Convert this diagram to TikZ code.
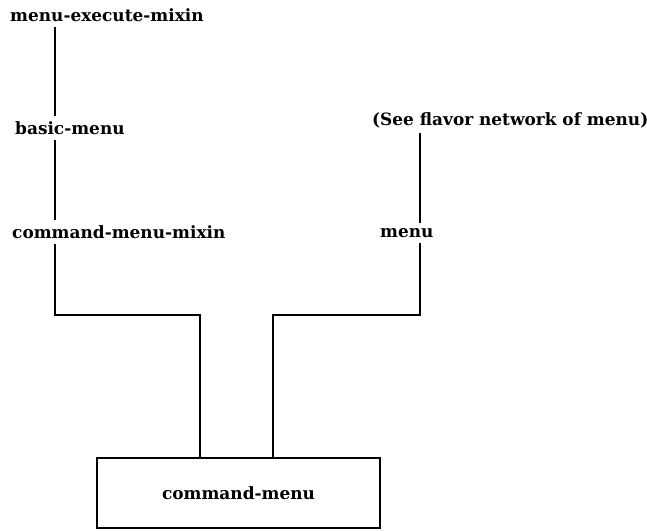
\documentclass[tikz,border=0pt]{standalone}
\usepackage{fontspec}
\setmainfont{DejaVu Serif}
\usepackage{tikz}
\tikzstyle{every node}=[inner xsep=0pt, inner ysep=5bp, font=\bfseries\fontsize{17}{19}\selectfont]
\tikzset{flav/.style={anchor=west},
  link/.style={line width=2.8bp}}

\begin{document}
\begin{tikzpicture}[x=1bp,y=-1bp]
    \useasboundingbox (0,0) rectangle (647,531);
    \coordinate (lx) at (55,0);
    \coordinate (rx) at (420,0);
    \node[flav] (mem) at (10,15) {menu-execute-mixin};
    \node[flav] (bm) at (15,128) {basic-menu};
    \node[flav] (cmm) at (12,232) {command-menu-mixin};
    \node[flav] (see) at (372,120) {(See flavor network of menu)};
    \node[flav] (mn) at (380,233) {menu};
    \node[draw, line width=2.4bp, minimum width=283bp, minimum height=70bp] (cm) at (238.5,493) {command-menu};
    \coordinate (lj) at (200,315);
    \coordinate (rj) at (273,315);
    \draw[link] (mem.south -| lx) -- (bm.north -| lx);
    \draw[link] (bm.south -| lx) -- (cmm.north -| lx);
    \draw[link] (cmm.south -| lx) |- (lj) -- (lj |- cm.north);
    \draw[link] (see.south -| rx) -- (mn.north -| rx);
    \draw[link] (mn.south -| rx) |- (rj) -- (rj |- cm.north);
  \end{tikzpicture}
\end{document}
